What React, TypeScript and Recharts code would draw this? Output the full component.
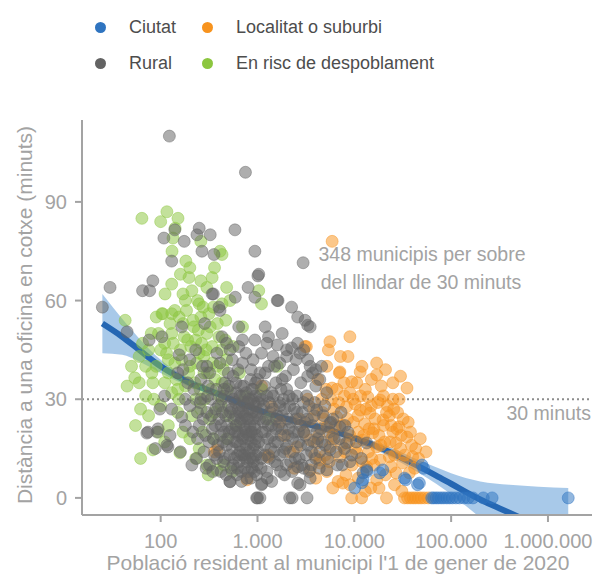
import { ComposedChart, Scatter, Line, Area, XAxis, YAxis, ReferenceLine } from "recharts";

// Municipis: [població, minuts fins a l'oficina]
const ciutat: [number, number][] = [
  [10100, 3], [12000, 4.6], [12300, 5.5], [13500, 8], [18300, 7.6], [19700, 8.5], [33000, 6], [34000, 5.5],
  [45000, 4], [47000, 4.5], [50000, 10], [52000, 9],
  [63000, 0], [66000, 0], [70000, 0], [74000, 0], [79000, 0], [84000, 0], [90000, 0], [96000, 0],
  [103000, 0], [112000, 0], [122000, 0], [135000, 0], [150000, 0], [168000, 0], [215000, 0], [265000, 0],
  [1620000, 0],
];

const localitat: [number, number][] = [
  [5900, 78], [9000, 49], [5600, 47.5], [5400, 45], [3200, 46], [3100, 46], [17000, 41], [17000, 37.4],
  [11500, 38.3], [7100, 38.3], [35000, 33.4], [9400, 35.3], [5900, 33.4], [13800, 30.7], [18500, 29.8],
  [23000, 25], [29000, 21.6], [35000, 18.5], [40000, 12.5], [23000, 12.5], [17000, 15.5], [7600, 4.5],
  [17000, 5.5], [13400, 9.5], [10600, 13.7], [4400, 10.6], [3500, 8.5], [4100, 16.7], [5200, 21.6],
  [6600, 24.6], [8300, 27.7], [11500, 26.7], [14500, 25.8], [19800, 23.7], [25000, 20], [15500, 19.8],
  [12300, 17.6], [7100, 12.5], [5600, 15.5], [27000, 16.7], [18500, 11.5], [31500, 10.6], [37000, 7.6],
  [27000, 7.6], [6600, 33], [9000, 32], [10600, 35], [25000, 35], [5800, 29.8], [780, 5.5], [380, 14.6],
  [360, 14], [1400, 27.7], [1300, 13], [1100, 34], [1280, 12.5], [2550, 15.5], [2150, 14], [3500, 17.6],
  [4400, 11.5], [5200, 8],
  [9400, 0], [11900, 0], [21500, 0], [33000, 0], [35500, 0], [38000, 0], [40500, 0], [43000, 0],
  [46000, 0], [49000, 0], [53000, 0], [58000, 0],
  [4800, 24], [6000, 19], [7500, 22], [8800, 17], [9800, 23], [11000, 20], [12800, 22.5], [14000, 14],
  [16000, 21], [18000, 19], [20500, 17], [22000, 28], [24000, 22], [26000, 13], [30000, 15], [32000, 24],
  [3800, 27], [4600, 30], [6200, 27], [7900, 31], [10200, 28.5], [13000, 33], [15000, 28], [20000, 31],
  [8200, 7], [9500, 10], [11000, 6], [14800, 3], [6800, 5], [24000, 9.5], [28000, 26], [5000, 13],
  [3000, 20], [2700, 24], [2400, 9], [1900, 19], [1700, 23], [8000, 14], [16000, 10], [21000, 7],
  [12000, 11], [4200, 36], [7200, 43], [43000, 15], [38000, 20], [29000, 30],
  [3300, 30], [3600, 24], [3900, 13], [4300, 19], [4700, 26], [5100, 33], [5500, 11], [5800, 18],
  [6400, 22], [6900, 29], [7400, 16], [7800, 35], [8500, 24], [9000, 19], [9700, 30], [10300, 15],
  [10900, 25], [11600, 31], [12500, 19], [13200, 27], [14200, 21], [15200, 12], [16400, 24], [17500, 29],
  [18800, 16], [20000, 22], [21500, 26], [23500, 17], [25500, 27], [27500, 21], [30500, 19], [33000, 13],
  [36000, 23], [39000, 16], [42000, 9], [46000, 12], [25000, 30], [19000, 34], [15000, 36], [12000, 40],
  [8600, 43], [21000, 39], [30000, 37], [4000, 6], [6000, 3], [9000, 4], [13000, 2], [18000, 3],
  [26000, 4], [31000, 2], [7000, 38], [5200, 40], [48000, 18], [55000, 14],
];

const rural: [number, number][] = [
  [123, 110], [751, 99], [2960, 71.5], [140, 81.5], [108, 79], [175, 78], [250, 82], [237, 80], [325, 80],
  [585, 81.5], [267, 75], [355, 74], [940, 75], [130, 72], [1010, 67.5], [30, 64], [65, 63], [77, 63],
  [83, 66], [25, 58], [350, 62], [590, 61], [800, 64], [940, 61], [1630, 60], [2250, 58], [2600, 55],
  [3300, 52.5], [410, 57], [1030, 68], [400, 58], [340, 62], [3100, 54], [3500, 52], [1300, 49], [45, 50.5],
  [76, 48], [103, 49], [165, 52], [285, 53], [430, 49], [640, 52], [940, 48], [640, 46], [155, 43.5],
  [72, 19.7], [92, 20], [116, 16], [88, 15], [98, 27], [125, 19], [165, 24.6], [119, 15.5], [74, 20], [94, 21],
  [520, 4.9], [1100, 4], [980, 0], [1060, 0], [2280, 0], [2750, 4], [1000, 0], [3250, 0], [2150, 0],
  [2600, 4.5], [1110, 4.3],
  [2250, 45.6], [1600, 46.5], [2000, 43], [3300, 37], [4400, 36], [4600, 40], [3900, 29], [5600, 22.8],
  [9000, 11], [13400, 16.7], [8300, 16.7], [5600, 14.6], [2600, 9.4], [5200, 8.5], [3000, 45], [3700, 38],
  [5200, 32], [4100, 26.7], [7100, 21.6], [13400, 8.5], [12300, 7.6],
  [200, 42], [300, 40], [380, 44], [500, 38], [700, 41], [850, 36], [260, 36], [450, 33], [600, 35],
  [150, 38], [220, 33], [330, 30], [700, 31], [900, 33], [550, 42], [180, 30], [200, 28], [250, 22],
  [300, 26], [350, 18], [400, 24], [450, 20], [500, 28], [550, 15], [600, 22], [650, 26], [700, 18],
  [750, 12], [800, 24], [850, 20], [900, 15], [950, 28], [280, 14], [320, 10], [380, 12], [420, 8],
  [480, 16], [520, 5], [560, 10], [620, 13], [680, 8], [720, 22], [780, 6], [840, 12], [880, 9], [960, 18],
  [240, 18], [180, 22], [160, 14], [210, 10], [260, 30], [310, 34], [370, 27], [430, 30], [470, 25],
  [530, 32], [590, 29], [640, 19], [690, 28], [740, 25], [810, 27], [870, 30], [930, 22], [990, 25],
  [340, 21], [390, 16], [460, 12], [510, 20], [570, 24], [610, 17], [660, 14], [770, 16], [820, 19],
  [910, 11], [980, 7],
  [1600, 60], [1500, 40], [2000, 45], [1200, 38], [1800, 36], [2500, 42], [3500, 40], [1100, 30],
  [1400, 32], [1700, 28], [2000, 33], [2300, 30], [2800, 35], [3200, 31], [4000, 34], [1050, 24],
  [1200, 20], [1350, 26], [1500, 17], [1650, 22], [1800, 25], [1950, 15], [2100, 21], [2300, 18],
  [2500, 24], [2700, 12], [3000, 20], [3300, 16], [3700, 22], [4200, 18], [4800, 25], [5500, 20],
  [6500, 14], [7500, 10], [1100, 12], [1250, 8], [1400, 5], [1600, 10], [1900, 7], [2200, 11], [3000, 9],
  [3500, 6], [4000, 12], [1100, 44],
  [420, 22], [540, 27], [660, 31], [760, 20], [880, 26], [1020, 29], [1150, 23], [1280, 18], [1450, 27],
  [1550, 21], [1750, 19], [1850, 30], [2050, 24], [2400, 27], [2650, 20], [2900, 26], [3100, 23],
  [3400, 28], [3800, 17], [4500, 21], [5000, 16], [6000, 24], [7000, 18], [8000, 22], [460, 35], [560, 37],
  [720, 34], [860, 39], [1000, 36], [1180, 34], [1300, 40], [1550, 35], [290, 19], [360, 13], [440, 17],
  [620, 9], [730, 13], [1020, 14], [1180, 16], [1320, 12], [1480, 14], [1700, 13], [2000, 16], [2350, 14],
  [2800, 16], [3200, 13], [3600, 10], [4400, 14], [590, 20], [680, 24], [800, 29], [950, 31], [1100, 27],
  [1250, 31], [1400, 22], [1600, 25], [1750, 33], [2150, 28], [2550, 31], [240, 26], [190, 35], [270, 40],
  [230, 45], [170, 39], [130, 27], [110, 31],
  [215, 20], [235, 12], [255, 29], [275, 24], [295, 9], [305, 31], [315, 17], [335, 25], [345, 8],
  [365, 22], [375, 33], [395, 28], [405, 14], [415, 19], [435, 26], [445, 11], [455, 31], [475, 7],
  [485, 22], [495, 18], [505, 34], [515, 13], [525, 26], [535, 9], [545, 21], [565, 30], [575, 12],
  [585, 17], [595, 25], [605, 32], [615, 7], [625, 20], [635, 27], [645, 11], [655, 16], [665, 23],
  [675, 34], [685, 5], [695, 13], [705, 26], [715, 19], [725, 29], [735, 9], [745, 21], [755, 15],
  [765, 32], [775, 24], [785, 11], [795, 18], [805, 8], [815, 30], [825, 14], [835, 22], [845, 27],
  [855, 6], [865, 17], [875, 33], [885, 20], [895, 12], [905, 24], [915, 29], [925, 8], [935, 16],
  [945, 21], [955, 35], [965, 13], [975, 26], [985, 19], [995, 10], [1030, 17], [1060, 31], [1090, 9],
  [1120, 20], [1160, 28], [1190, 13], [1220, 24], [1260, 6], [1290, 22], [1330, 29], [1370, 15],
  [1410, 19], [1460, 31], [1510, 11], [1560, 24], [1620, 17], [1680, 29], [1730, 8], [1790, 21],
  [1860, 14], [1920, 27], [1990, 10], [2060, 19], [2130, 31], [2200, 23], [2280, 8], [2370, 20],
  [2460, 12], [2560, 26], [2660, 17], [2760, 22], [2870, 10], [2990, 29], [3130, 19], [3280, 24],
  [3430, 8], [3620, 14], [3850, 25], [4100, 20], [4350, 9], [4650, 17], [4950, 28], [5300, 12],
  [5750, 23], [6200, 18], [6700, 10], [7300, 26], [7900, 15], [8600, 20], [9400, 13], [10500, 17],
  [11800, 12],
  [320, 38], [410, 41], [520, 45], [630, 39], [760, 44], [900, 42], [1060, 38], [1250, 47], [1450, 43],
  [1700, 41], [1950, 37], [2350, 39], [2750, 44], [3300, 42], [4000, 39], [480, 47], [700, 48], [1200, 52],
  [1800, 50], [2600, 47],
];

const despoblament: [number, number][] = [
  [64, 85], [116, 87], [100, 84], [151, 85], [141, 82], [134, 79], [131, 75], [182, 72], [260, 78],
  [410, 75], [430, 74], [196, 67], [340, 67], [210, 63], [111, 62], [103, 56], [130, 56], [250, 59],
  [315, 56], [430, 59], [1100, 59], [1030, 63], [43, 54], [50, 40], [54, 36.5], [45, 34], [81, 38],
  [62, 27], [83, 35], [62, 12], [83, 14.6], [158, 13.7], [310, 7], [380, 8.5],
  [160, 68], [300, 64], [180, 60], [240, 60], [350, 58], [520, 60], [140, 57], [105, 56], [90, 55],
  [260, 55], [470, 54], [700, 52], [170, 53], [220, 52], [130, 50], [300, 50], [400, 49], [190, 48],
  [110, 47], [75, 45], [60, 43], [160, 45], [250, 44], [340, 46], [560, 46], [90, 40],
  [120, 38], [200, 40], [280, 38], [380, 40], [480, 42], [650, 38], [85, 30],
  [130, 32], [180, 34], [230, 30], [330, 33], [430, 35], [750, 31], [1100, 33], [120, 22],
  [150, 26], [170, 20], [210, 25], [260, 27], [320, 24], [420, 28], [500, 25], [600, 22],
  [1300, 24], [250, 15], [350, 18], [450, 10], [550, 8], [300, 10],
  [1600, 40], [70, 31], [100, 28], [140, 41], [110, 35], [65, 47], [230, 48],
  [280, 43], [155, 30],
  [95, 50], [115, 44], [125, 53], [135, 47], [145, 36], [155, 55], [165, 42], [175, 49], [185, 57],
  [195, 38], [205, 46], [215, 54], [225, 35], [235, 41], [245, 51], [255, 33], [265, 47], [275, 58],
  [285, 30], [295, 45], [305, 38], [325, 52], [345, 41], [365, 36], [385, 53], [405, 31], [425, 45],
  [445, 39], [465, 48], [490, 33], [130, 65], [170, 62], [200, 70], [120, 42], [150, 33],
  [100, 45], [80, 50], [70, 40], [60, 35], [55, 22], [75, 25], [95, 20], [110, 17], [200, 18], [230, 12],
  [270, 20], [360, 26], [480, 18], [260, 66], [360, 70], [480, 64],
];

// Ajust LOESS: població, valor ajustat, interval [baix, alt]
const trendPop = [25, 40, 60, 100, 200, 400, 700, 1000, 2000, 4000, 7000, 10000, 20000, 40000, 70000, 100000, 200000, 400000, 800000, 1620000];
const trendFit = [53, 49, 45, 40, 35, 31.5, 28.5, 26.8, 24, 21.8, 19.8, 18.2, 14.8, 10.5, 6.8, 4.3, -0.5, -4.5, -8.5, -12.5];
const trendLow = [44, 43.5, 41.5, 38, 33.8, 30.5, 27.6, 26, 23.2, 21, 18.9, 17.2, 13.4, 8.7, 4.3, 1.1, -6, -13, -20, -28];
const trendHigh = [62, 54.5, 48.5, 42, 36.2, 32.5, 29.4, 27.6, 24.8, 22.6, 20.7, 19.2, 16.2, 12.3, 9.3, 7.5, 5, 4, 3.4, 3];

const xTicks = [100, 1000, 10000, 100000, 1000000];
const yTicks = [0, 30, 60, 90];

const FONT = "'Liberation Sans', Arial, sans-serif";
const AXIS = "#a3a3a3";

const COLORS = {
  ciutat: "#2f74c0",
  localitat: "#f7931e",
  rural: "#636363",
  despoblament: "#8cc63f",
};

const toPts = (arr: [number, number][]) => arr.map(([x, y]) => ({ x, y }));

const trend = trendPop.map((x, i) => ({ x, fit: trendFit[i], band: [trendLow[i], trendHigh[i]] }));

const fmt = (n: number) => String(n).replace(/\B(?=(\d{3})+(?!\d))/g, ".");

const dot = (color: string) => (p: any) => (
  <circle cx={p.cx} cy={p.cy} r={6} fill={color} fillOpacity={0.52} stroke={color} strokeOpacity={0.45} strokeWidth={1} />
);

const legendItems = [
  { label: "Ciutat", color: COLORS.ciutat, x: 100, y: 27 },
  { label: "Localitat o suburbi", color: COLORS.localitat, x: 207, y: 27 },
  { label: "Rural", color: COLORS.rural, x: 100, y: 63 },
  { label: "En risc de despoblament", color: COLORS.despoblament, x: 207, y: 63 },
];

const note = { position: "absolute" as const, fontSize: 19.5, color: AXIS, whiteSpace: "nowrap" as const };

export default function App() {
  return (
    <div style={{ position: "absolute", left: 0, top: 0, width: 601, height: 576, background: "#fff", fontFamily: FONT }}>
      {legendItems.map((it) => (
        <div key={it.label}>
          <span
            style={{
              position: "absolute", left: it.x - 5.5, top: it.y - 5.5, width: 11, height: 11,
              borderRadius: "50%", background: it.color,
            }}
          />
          <span
            style={{
              position: "absolute", left: it.x + 29, top: it.y - 11, fontSize: 18, lineHeight: "22px",
              color: "#4d4d4d", whiteSpace: "nowrap",
            }}
          >
            {it.label}
          </span>
        </div>
      ))}

      <ComposedChart
        width={601}
        height={576}
        data={trend}
        margin={{ top: 120, right: 9, bottom: 0, left: 0 }}
        style={{ position: "absolute", left: 0, top: 0 }}
      >
        <XAxis
          dataKey="x"
          type="number"
          scale="log"
          domain={[15.4, 2850000]}
          allowDataOverflow
          ticks={xTicks}
          tickFormatter={fmt}
          height={61}
          tickSize={7}
          tickMargin={12}
          axisLine={{ stroke: AXIS, strokeWidth: 2 }}
          tickLine={{ stroke: AXIS, strokeWidth: 2 }}
          tick={{ fill: AXIS, fontSize: 20, fontFamily: FONT }}
        />
        <YAxis
          type="number"
          domain={[-5.2, 114.9]}
          allowDataOverflow
          ticks={yTicks}
          width={82}
          tickSize={7}
          tickMargin={8}
          axisLine={{ stroke: AXIS, strokeWidth: 2 }}
          tickLine={{ stroke: AXIS, strokeWidth: 2 }}
          tick={{ fill: AXIS, fontSize: 20, fontFamily: FONT }}
        />
        <Area dataKey="band" type="monotone" fill="#3f87cf" fillOpacity={0.45} stroke="none" isAnimationActive={false} />
        <Scatter data={toPts(localitat)} dataKey="y" shape={dot(COLORS.localitat)} isAnimationActive={false} />
        <Scatter data={toPts(despoblament)} dataKey="y" shape={dot(COLORS.despoblament)} isAnimationActive={false} />
        <Scatter data={toPts(rural)} dataKey="y" shape={dot(COLORS.rural)} isAnimationActive={false} />
        <Scatter data={toPts(ciutat)} dataKey="y" shape={dot(COLORS.ciutat)} isAnimationActive={false} />
        <ReferenceLine y={30} stroke="#8c8c8c" strokeDasharray="2 3" strokeWidth={2} />
        <Line dataKey="fit" type="monotone" stroke="#2567b3" strokeWidth={6} dot={false} activeDot={false} isAnimationActive={false} />
      </ComposedChart>

      <div style={{ ...note, left: 422, top: 254, transform: "translate(-50%, -50%)" }}>
        348 municipis per sobre
      </div>
      <div style={{ ...note, left: 421, top: 282, transform: "translate(-50%, -50%)" }}>
        del llindar de 30 minuts
      </div>
      <div style={{ ...note, right: 601 - 591, top: 413, transform: "translateY(-50%)" }}>
        30 minuts
      </div>
      <div style={{ ...note, fontSize: 21, left: 25, top: 315, transform: "translate(-50%, -50%) rotate(-90deg)" }}>
        Distància a una oficina en cotxe (minuts)
      </div>
      <div style={{ ...note, fontSize: 21, left: 338, top: 563, transform: "translate(-50%, -50%)" }}>
        Població resident al municipi l'1 de gener de 2020
      </div>
    </div>
  );
}
